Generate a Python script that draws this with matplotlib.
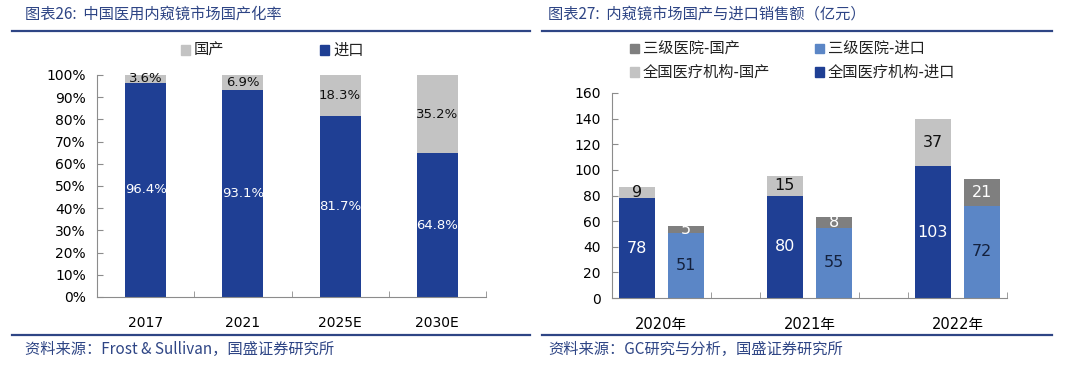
import matplotlib
matplotlib.use("Agg")
import matplotlib.pyplot as plt
from matplotlib.patches import Rectangle
from matplotlib.lines import Line2D
import numpy as np

plt.rcParams['font.family'] = ['DejaVu Sans', 'Noto Sans CJK SC']

# left chart data
years = ['2017', '2021', '2025E', '2030E']
imp_share = [96.4, 93.1, 81.7, 64.8]
dom_share = [3.6, 6.9, 18.3, 35.2]

# right chart data (亿元)
groups = ['2020年', '2021年', '2022年']
all_imp = [78, 80, 103]
all_dom = [9, 15, 37]
t3_imp = [51, 55, 72]
t3_dom = [5, 8, 21]

NAVY = '#1f3f94'
LBLUE = '#5b86c6'
LGREY = '#c3c3c3'
DGREY = '#7f7f7f'
TITLE = '#2e4585'
SPINE = '#8c8c8c'
CJK = ['Noto Sans CJK SC', 'DejaVu Sans']

W, H = 1080, 367
fig = plt.figure(figsize=(10.8, 3.67), dpi=100)


def fx(px):
    return px / W


def fy(py):
    return 1 - py / H


def style_axes(ax):
    for s in ['top', 'right']:
        ax.spines[s].set_visible(False)
    for s in ['left', 'bottom']:
        ax.spines[s].set_color(SPINE)
        ax.spines[s].set_linewidth(0.8)
    ax.tick_params(axis='y', direction='in', length=4, color=SPINE, labelsize=10, pad=8)
    ax.tick_params(axis='x', which='major', length=0, labelsize=10, pad=14)
    ax.tick_params(axis='x', which='minor', direction='in', length=4, color=SPINE)


# ---- left panel ----
ax1 = fig.add_axes([fx(97), fy(297), fx(486 - 97), fy(75) - fy(297)])
x = np.arange(len(years))
ax1.bar(x, imp_share, width=0.42, color=NAVY)
ax1.bar(x, dom_share, width=0.42, bottom=imp_share, color=LGREY)
for i in range(len(years)):
    ax1.text(x[i], imp_share[i] / 2, f'{imp_share[i]:.1f}%', ha='center', va='center',
             color='white', fontsize=9.5)
    ax1.text(x[i], imp_share[i] + dom_share[i] / 2, f'{dom_share[i]:.1f}%', ha='center',
             va='center', color='#111111', fontsize=9.5)
ax1.set_xlim(-0.5, len(years) - 0.5)
ax1.set_ylim(0, 100)
ax1.set_yticks(range(0, 101, 10))
ax1.set_yticklabels([f'{v}%' for v in range(0, 101, 10)])
ax1.set_xticks(x)
ax1.set_xticklabels(years)
ax1.set_xticks(np.arange(0.5, len(years), 1), minor=True)
style_axes(ax1)

# ---- right panel ----
ax2 = fig.add_axes([fx(612), fy(298), fx(1007 - 612), fy(93) - fy(298)])
pos_all = np.array([0, 3, 6])
pos_t3 = pos_all + 1
bw = 0.73
ax2.bar(pos_all, all_imp, width=bw, color=NAVY)
ax2.bar(pos_all, all_dom, width=bw, bottom=all_imp, color=LGREY)
ax2.bar(pos_t3, t3_imp, width=bw, color=LBLUE)
ax2.bar(pos_t3, t3_dom, width=bw, bottom=t3_imp, color=DGREY)
for i in range(len(groups)):
    ax2.text(pos_all[i], all_imp[i] / 2, str(all_imp[i]), ha='center', va='center',
             color='white', fontsize=11.5)
    ax2.text(pos_all[i], all_imp[i] + all_dom[i] / 2, str(all_dom[i]), ha='center',
             va='center', color='#111111', fontsize=11.5)
    ax2.text(pos_t3[i], t3_imp[i] / 2, str(t3_imp[i]), ha='center', va='center',
             color='#14213d', fontsize=11.5)
    ax2.text(pos_t3[i], t3_imp[i] + t3_dom[i] / 2, str(t3_dom[i]), ha='center',
             va='center', color='white', fontsize=11.5)
ax2.set_xlim(-0.5, 7.5)
ax2.set_ylim(0, 160)
ax2.set_yticks(range(0, 161, 20))
ax2.set_xticks(pos_all + 0.5)
ax2.set_xticklabels(groups)
ax2.set_xticks(np.arange(0.5, 8, 1), minor=True)
style_axes(ax2)
ax2.tick_params(axis='x', which='major', labelsize=10.5)

# ---- titles, rules, sources ----
fig.text(fx(25), fy(14), '图表26:  中国医用内窥镜市场国产化率', color=TITLE, fontsize=11,
         style='italic', va='center', family=CJK)
fig.text(fx(548), fy(14), '图表27:  内窥镜市场国产与进口销售额（亿元）', color=TITLE,
         fontsize=11, style='italic', va='center', family=CJK)
for x0, x1 in [(12, 530), (542, 1052)]:
    for yy in (31, 335):
        fig.add_artist(Line2D([fx(x0), fx(x1)], [fy(yy), fy(yy)], color=TITLE, lw=1.6))
fig.text(fx(25), fy(349), '资料来源：Frost & Sullivan，国盛证券研究所', color=TITLE,
         fontsize=11, style='italic', va='center', family=CJK)
fig.text(fx(548), fy(349), '资料来源：GC研究与分析，国盛证券研究所', color=TITLE,
         fontsize=11, style='italic', va='center', family=CJK)

# ---- legends ----
def legend_item(px, py, color, label):
    s = 9
    fig.add_artist(Rectangle((fx(px), fy(py + s / 2)), fx(s), fy(py - s / 2) - fy(py + s / 2),
                             color=color, transform=fig.transFigure))
    fig.text(fx(px + s + 4), fy(py), label, fontsize=11, va='center', color='#222222',
             family=CJK)


legend_item(181, 50, LGREY, '国产')
legend_item(320, 50, NAVY, '进口')
legend_item(630, 48, DGREY, '三级医院-国产')
legend_item(815, 48, LBLUE, '三级医院-进口')
legend_item(630, 72, LGREY, '全国医疗机构-国产')
legend_item(815, 72, NAVY, '全国医疗机构-进口')

fig.savefig('out.png', dpi=100, facecolor='white')
